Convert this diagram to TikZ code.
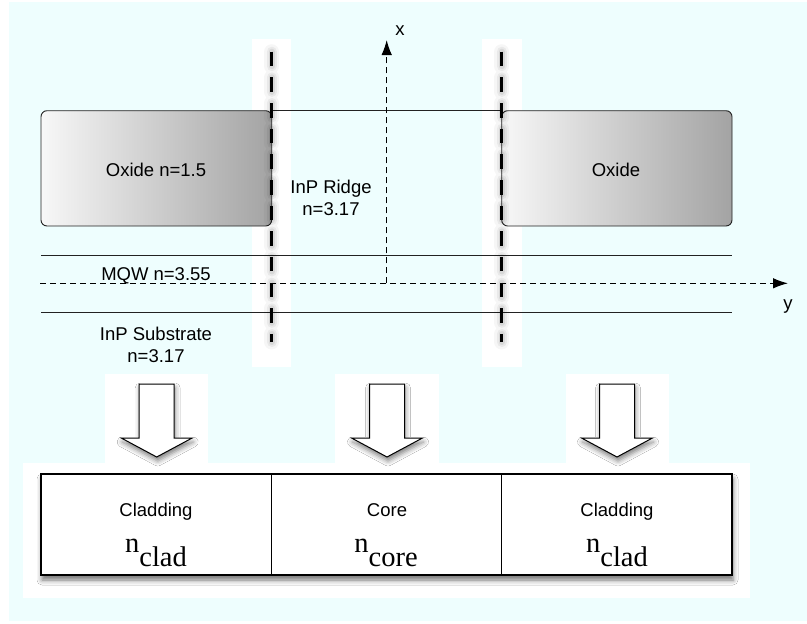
\documentclass[tikz,border=0pt]{standalone}
\usepackage{fontspec}
\setmainfont{Liberation Sans}
\newfontfamily\serifidx{Liberation Serif}
\usetikzlibrary{arrows.meta,shadows.blur}

\definecolor{bgcyan}{RGB}{238,254,254}
\definecolor{linegray}{RGB}{34,34,34}

\begin{document}
\begin{tikzpicture}[x=1pt,y=-1pt,
  lbl/.style={font=\fontsize{18.5}{22}\selectfont, anchor=base, inner sep=0pt},
  idx/.style={font=\serifidx\fontsize{28.5}{32}\selectfont, anchor=base, inner sep=0pt},
  layer/.style={draw=linegray, line width=1pt},
  oxide/.style={draw=linegray, line width=0.9pt, rounded corners=6pt,
    left color=white!97!black, right color=black!36},
  cell/.style={draw=black, line width=1.2pt, fill=white, minimum height=101pt, inner sep=0pt},
  axis/.style={draw=black, dash pattern=on 6pt off 4pt, line width=1.1pt,
    -{Latex[length=15pt,width=10.5pt]}},
  cut/.style={draw=black, dash pattern=on 14.5pt off 11.16pt, line width=3pt},
  halo/.style={draw=black, dash pattern=on 14.5pt off 11.16pt, line cap=round},
  bigarrow/.style={draw=black, line width=1pt, fill=white,
    blur shadow={shadow xshift=1pt, shadow yshift=-4pt, shadow blur radius=5pt, shadow opacity=50}},
  patch/.style={fill=white, draw=none}
]
\useasboundingbox (0,0) rectangle (807,624);
\fill[white] (0,0) rectangle (807,624);
\fill[bgcyan] (9,2) rectangle (807,621);

% white backdrops
\fill[patch] (252,39) rectangle (291,367);
\fill[patch] (482,39) rectangle (522,367);
\fill[patch] (105,374) rectangle (208,463);
\fill[patch] (335,374) rectangle (439,463);
\fill[patch] (566,374) rectangle (669,463);
\fill[patch] (23,463) rectangle (750,598);

% oxide blocks and ridge top
\draw[oxide] (41,110.7) rectangle (271.7,226);
\draw[oxide] (501.7,110.7) rectangle (732,226);
\coordinate (ridgeL) at (271.7,110.7);
\coordinate (ridgeR) at (501.7,110.7);
\draw[layer] (ridgeL) -- (ridgeR);

% layer boundaries
\coordinate (mqwTopL) at (41,255);
\coordinate (mqwTopR) at (732,255);
\coordinate (mqwBotL) at (41,312.7);
\coordinate (mqwBotR) at (732,312.7);
\draw[layer] (mqwTopL) -- (mqwTopR);
\draw[layer] (mqwBotL) -- (mqwBotR);

% axes
\coordinate (origin) at (386.7,283.3);
\coordinate (yStart) at (40,283.3);
\coordinate (yEnd) at (788,283.3);
\coordinate (xEnd) at (386.7,40);
\draw[axis] (yStart) -- (yEnd);
\draw[axis] (origin) -- (xEnd);
\node[lbl] (xlab) at (400,35) {x};
\node[lbl] (ylab) at (788,309) {y};

% effective-index cut lines with soft halo
\foreach \xc in {271.7,501.7}{
  \draw[halo, line width=15pt, opacity=0.035] (\xc,51.7) -- (\xc,342);
  \draw[halo, line width=10pt, opacity=0.05] (\xc,51.7) -- (\xc,342);
  \draw[halo, line width=6pt, opacity=0.07] (\xc,51.7) -- (\xc,342);
  \draw[cut] (\xc,51.7) -- (\xc,342);
}

% labels of the layers
\node[lbl] (oxL) at (156,176.7) {Oxide n=1.5};
\node[lbl] (oxR) at (616,176.3) {Oxide};
\node[lbl] (ridge) at (331,193.3) {InP Ridge};
\node[lbl] (ridgeN) at (331,215) {n=3.17};
\node[lbl] (mqw) at (156,280) {MQW n=3.55};
\node[lbl] (sub) at (156,340) {InP Substrate};
\node[lbl] (subN) at (156,362.3) {n=3.17};

% block arrows
\foreach \c in {156.7,387,617}{
  \path[bigarrow] (\c-17.5,384) -- (\c+17.5,384) -- (\c+17.5,438) -- (\c+35.5,438)
    -- (\c,457) -- (\c-35.5,438) -- (\c-17.5,438) -- cycle;
}

% three-slab equivalent waveguide
\fill[white, blur shadow={shadow xshift=1pt, shadow yshift=-5pt, shadow blur radius=5pt, shadow opacity=55}]
  (41,474) rectangle (732,575);
\node[cell, minimum width=230.7pt] (clL) at (156.35,524.5) {};
\node[cell, minimum width=230pt] (core) at (386.7,524.5) {};
\node[cell, minimum width=230.3pt] (clR) at (616.85,524.5) {};

\node[lbl] (clLt) at (156,516.7) {Cladding};
\node[lbl] (coret) at (387,516.7) {Core};
\node[lbl] (clRt) at (617,516.7) {Cladding};
\node[idx] (clLn) at (156,552.7) {n\raisebox{-13.5pt}{clad}};
\node[idx] (coren) at (386,552.7) {n\raisebox{-13.5pt}{core}};
\node[idx] (clRn) at (617,552.7) {n\raisebox{-13.5pt}{clad}};
\end{tikzpicture}
\end{document}
